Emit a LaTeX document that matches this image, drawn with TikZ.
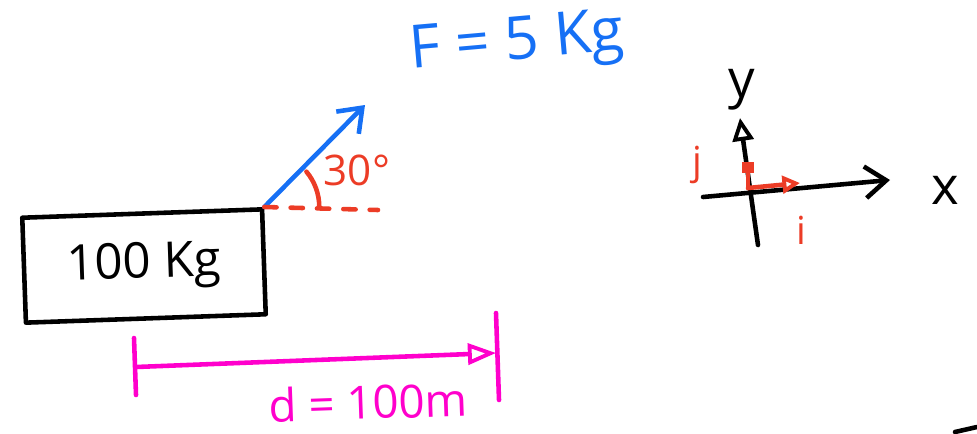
\documentclass[tikz,border=0pt]{standalone}
\usepackage{fontspec}
\setmainfont{Open Sans}
\usepackage{tikz}
\usetikzlibrary{positioning, calc, arrows.meta}
\definecolor{penblue}{RGB}{22,112,245}
\definecolor{penred}{RGB}{236,60,38}
\definecolor{penpink}{RGB}{255,0,204}

\begin{document}
\begin{tikzpicture}[x=0.02cm, y=-0.02cm,
    pen/.style={line width=2.6pt, line cap=round, line join=round},
    barb/.style={-{Straight Barb[length=12pt, width=18pt, line width=2.6pt]}},
    hand/.style={font=\fontsize{#1}{#1}\selectfont, inner sep=0pt}]

    \useasboundingbox (0,0) rectangle (977,433);

    % Block with its mass
    \node[pen, draw, rotate=2, minimum width=4.8cm, minimum height=2.1cm,
          hand=28] (block) at (144,266) {100 Kg};

    % Applied force on the top right corner
    \coordinate (Ftip) at (365,105);
    \draw[pen, penblue, barb] (block.north east) -- (Ftip);
    \node[hand=34, penblue, rotate=5] (Flabel) at (517,45) {F = 5 Kg};

    % Horizontal dashed reference line
    \coordinate (ref) at (378,210);
    \draw[pen, penred, dash pattern=on 7pt off 8pt] (block.north east) -- (ref);

    % Angle mark
    \draw[pen, penred] ($(block.north east)+(55,0)$) arc[start angle=0, end angle=-40, radius=55];
    \node[hand=24, penred] (angle) at (357,170) {30°};

    % Displacement
    \coordinate (dL) at (136,367);
    \coordinate (dR) at (496,353);
    \draw[pen, penpink] (134,338) -- (136,395);
    \draw[pen, penpink] (496,313) -- (499,400);
    \draw[pen, penpink, -{Triangle[open, length=16pt, width=12pt, line width=2.2pt]}] (dL) -- (dR);
    \node[hand=26, penpink, rotate=2] (dist) at (368,402) {d = 100m};

    % Axes
    \coordinate (O) at (748,188);
    \coordinate (xend) at (890,180);
    \coordinate (yend) at (740,118);
    \draw[pen, barb] (703,197) -- (xend);
    \draw[pen, -{Triangle[open, length=13pt, width=12pt, line width=2.2pt]}] (758,245) -- (yend);
    \node[hand=30] (xlabel) at (945,190) {x};
    \node[hand=30] (ylabel) at (742,90) {y};

    % Unit vectors
    \draw[pen, penred, -{Triangle[open, length=10pt, width=10pt, line width=2.2pt]}] (O) -- (800,183);
    \draw[pen, penred, -{Square[length=6pt, width=7pt]}] (O) -- (748,162);
    \node[hand=22, penred] (ilabel) at (801,230) {i};
    \node[hand=22, penred] (jlabel) at (697,165) {j};

    % Stroke at the lower right edge
    \draw[pen] (955,432) -- (977,427);

\end{tikzpicture}
\end{document}
